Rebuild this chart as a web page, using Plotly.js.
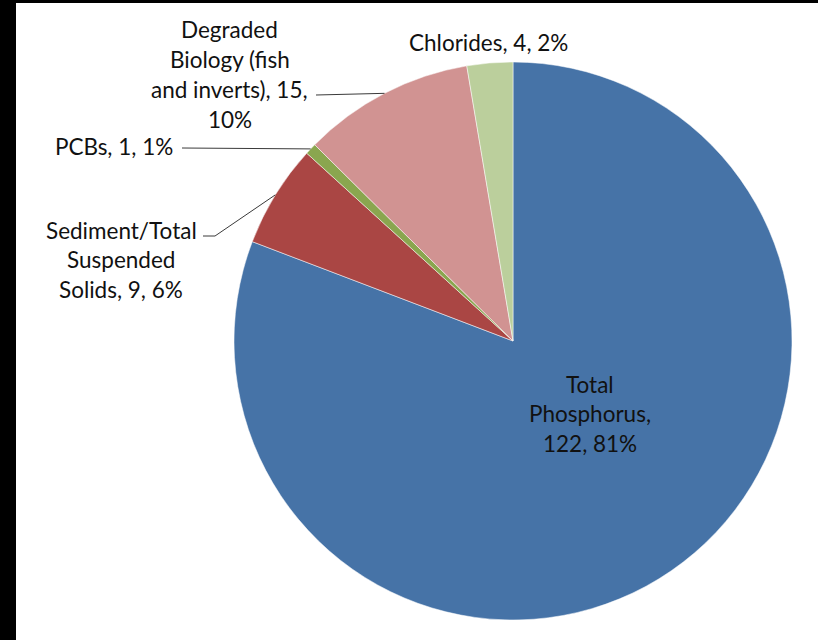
<!DOCTYPE html>
<html>
<head>
<meta charset="utf-8">
<script src="https://cdn.plot.ly/plotly-3.0.1.min.js"></script>
<style>
  html, body { margin:0; padding:0; background:#000; width:818px; height:640px; overflow:hidden; }
  #chart { position:absolute; left:16px; top:3px; width:802px; height:637px; background:#fff; }
</style>
</head>
<body>
<div id="chart"></div>
<script>
// ---- data ----
const categories = ["Total Phosphorus", "Sediment/Total Suspended Solids", "PCBs", "Degraded Biology (fish and inverts)", "Chlorides"];
const counts = [122, 9, 1, 15, 4];
const percentLabels = ["81%", "6%", "1%", "10%", "2%"];
const sliceColors = ["#4673A7", "#AA4644", "#8AA64F", "#D19392", "#BBCF9C"];

// ---- layout helpers (pixel geometry of the figure) ----
const W = 802, H = 637, OX = 16, OY = 3;
const cx = 497 + OX, cy = 338 + OY, R = 279;        // page px
const px2x = p => (p - OX) / W;
const py2y = p => 1 - (p - OY) / H;

// words per line for wrapped labels
const wordsPerLine = [[1, 1, 2], [1, 1, 3], [3], [1, 2, 3, 1], [3]];
// label centre (page px) of first line
const labelPos = [[590, 384], [121, 230], [114, 146], [230, 30], [489, 43]];
const lineGap = 29.7;
const leaderEnds = [null, [[203, 236], [215, 236]], [[182, 148]], [[316, 95]], null];

const total = counts.reduce((a, b) => a + b, 0);
const annotations = [];
const shapes = [];
let cum = 0;
categories.forEach((cat, i) => {
  const full = cat + ", " + counts[i] + ", " + percentLabels[i];
  const words = full.split(" ");
  let k = 0;
  wordsPerLine[i].forEach((n, li) => {
    const line = words.slice(k, k + n).join(" ");
    k += n;
    annotations.push({
      xref: "paper", yref: "paper",
      x: px2x(labelPos[i][0]), y: py2y(labelPos[i][1] + li * lineGap),
      xanchor: "center", yanchor: "middle",
      text: line, showarrow: false,
      font: { family: "Lato, 'Open Sans', sans-serif", size: 22.5, color: "#111" }
    });
  });
  // mid angle of slice (clockwise from 12 o'clock)
  const mid = (cum + counts[i] / 2) / total * 2 * Math.PI;
  cum += counts[i];
  if (leaderEnds[i]) {
    const ex = cx + R * Math.sin(mid), ey = cy - R * Math.cos(mid);
    const pts = leaderEnds[i].concat([[ex, ey]]);
    const path = pts.map((p, j) => (j ? "L" : "M") + px2x(p[0]) + "," + py2y(p[1])).join(" ");
    shapes.push({ type: "path", xref: "paper", yref: "paper", path: path,
                  line: { color: "#3a3a3a", width: 1 } });
  }
});

const trace = {
  type: "pie",
  labels: categories,
  values: counts,
  sort: false,
  direction: "clockwise",
  rotation: 0,
  textinfo: "none",
  hoverinfo: "none",
  marker: { colors: sliceColors, line: { color: "#ffffff", width: 0.5 } },
  domain: { x: [(cx - OX - R) / W, (cx - OX + R) / W], y: [py2y(cy + R), py2y(cy - R)] },
  showlegend: false
};

const layout = {
  width: W, height: H,
  margin: { l: 0, r: 0, t: 0, b: 0 },
  paper_bgcolor: "#ffffff",
  showlegend: false,
  annotations: annotations,
  shapes: shapes
};

Plotly.newPlot("chart", [trace], layout, { displayModeBar: false, staticPlot: true });
</script>
</body>
</html>
